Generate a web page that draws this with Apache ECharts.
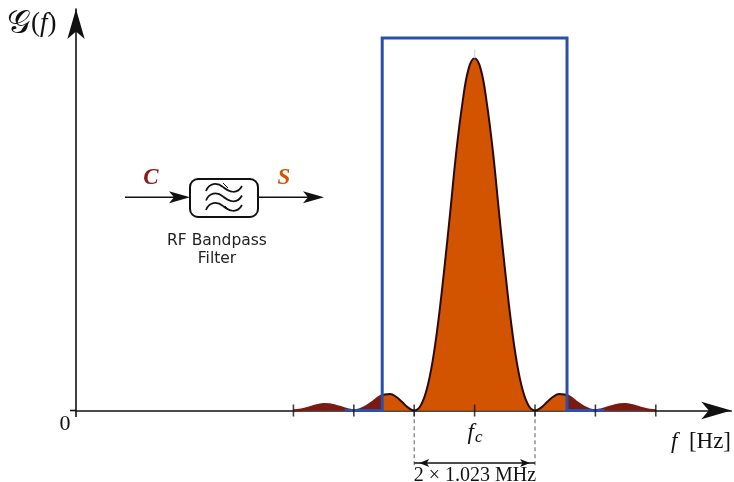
<!DOCTYPE html>
<html>
<head>
<meta charset="utf-8">
<script src="https://cdn.jsdelivr.net/npm/echarts@6/dist/echarts.min.js"></script>
<style>html,body{margin:0;padding:0;background:#fff}#c{width:734px;height:482px}</style>
</head>
<body>
<div id="c"></div>
<script>
// frequency offset from fc, in units of the chip rate (1.023 MHz)
const freqOffset = [-3.0,-2.9,-2.8,-2.7,-2.6,-2.5,-2.4,-2.3,-2.2,-2.1,-2.0,-1.9,-1.8,-1.7,-1.6,-1.5,-1.4,-1.3,-1.2,-1.1,-1.0,-0.9,-0.8,-0.7,-0.6,-0.5,-0.4,-0.3,-0.2,-0.1,0.0,0.1,0.2,0.3,0.4,0.5,0.6,0.7,0.8,0.9,1.0,1.1,1.2,1.3,1.4,1.5,1.6,1.7,1.8,1.9,2.0,2.1,2.2,2.3,2.4,2.5,2.6,2.7,2.8,2.9,3.0];
// normalised power spectral density
const psd = [0,0.0015,0.005,0.01,0.015,0.018,0.017,0.013,0.008,0.003,0,0.003,0.011,0.023,0.036,0.045,0.047,0.039,0.024,0.008,0,0.012,0.055,0.135,0.255,0.405,0.57,0.74,0.875,0.97,1,0.97,0.875,0.74,0.57,0.405,0.255,0.135,0.055,0.012,0,0.008,0.024,0.039,0.047,0.045,0.036,0.023,0.011,0.003,0,0.003,0.008,0.013,0.017,0.018,0.015,0.01,0.005,0.0015,0];
// RF bandpass filter (ideal) edges and gain
const filterEdge = 1.53;
const edgeLevel = 0.043;
const filterGain = 1.058;
const filterStop = 2.15;
// tick positions on the frequency axis
const tickPositions = [-3,-2,-1,0,1,2,3];
const bandHalf = 1; // main-lobe half width (1.023 MHz)
const dimLevel = -0.149; // level of the bandwidth dimension arrow
const guideLevel = -0.157;

const pairs = freqOffset.map((x,i)=>[x, psd[i]]);
const passband = [[-filterEdge, edgeLevel]].concat(pairs.filter(p=>Math.abs(p[0])<filterEdge), [[filterEdge, edgeLevel]]);
const lowerSide = pairs.filter(p=>p[0] < -filterEdge).concat([[-filterEdge, edgeLevel]]);
const upperSide = [[filterEdge, edgeLevel]].concat(pairs.filter(p=>p[0] > filterEdge));
const filterShape = [[-filterStop,0],[-filterEdge,0],[-filterEdge,filterGain],[filterEdge,filterGain],[filterEdge,0],[filterStop,0]];

const ORANGE = '#d35400', DARKRED = '#7b1a12', BLUE = '#2b50a8';
const SERIF = 'Liberation Serif';
const SANS = 'DejaVu Sans';

function txt(x, y, text, size, opts) {
  return {type:'text', x:x, y:y, z:10, style:Object.assign({text:text, fontSize:size, fontFamily:SERIF, fill:'#111', align:'left', verticalAlign:'middle'}, opts||{})};
}
function wave(y) {
  return [
    {type:'bezierCurve', shape:{x1:206,y1:y+3,cpx1:209,cpy1:y-5,cpx2:217,cpy2:y-6,x2:223,y2:y-1}, style:{stroke:'#111', lineWidth:1.7, fill:null}, z:10},
    {type:'bezierCurve', shape:{x1:223,y1:y-1,cpx1:229,cpy1:y+4,cpx2:237,cpy2:y+7,x2:242,y2:y-2}, style:{stroke:'#111', lineWidth:1.7, fill:null}, z:10}
  ];
}

const chart = echarts.init(document.getElementById('c'), null, {renderer:'canvas'});
chart.setOption({
  animation:false,
  grid:{left:76, right:2.7, top:9, bottom:71.5, containLabel:false},
  xAxis:{type:'value', min:-6.6, max:4.25, axisLine:{show:true, onZero:true, symbol:['none','arrow'], symbolSize:[13,30], lineStyle:{color:'#111', width:1.6}}, axisTick:{show:false}, axisLabel:{show:false}, splitLine:{show:false}},
  yAxis:{type:'value', min:0, max:1.14, axisLine:{show:true, onZero:false, symbol:['none','arrow'], symbolSize:[13,30], lineStyle:{color:'#111', width:1.6}}, axisTick:{show:false}, axisLabel:{show:false}, splitLine:{show:false}},
  series:[
    {type:'line', data:lowerSide, smooth:0.4, symbol:'none', clip:false, z:2,
     lineStyle:{color:DARKRED, width:2.5}, areaStyle:{color:DARKRED, opacity:1}},
    {type:'line', data:upperSide, smooth:0.4, symbol:'none', clip:false, z:2,
     lineStyle:{color:DARKRED, width:2.5}, areaStyle:{color:DARKRED, opacity:1}},
    {type:'line', data:passband, smooth:0.4, symbol:'none', clip:false, z:3,
     lineStyle:{color:'#2a0a02', width:2}, areaStyle:{color:ORANGE, opacity:1}},
    {type:'line', data:[[0,1.0],[0,1.024]], symbol:'none', z:3, lineStyle:{color:'#d8d8d8', width:1.5}},
    {type:'line', data:filterShape, symbol:'none', clip:false, z:4,
     lineStyle:{color:BLUE, width:3, join:'miter', cap:'butt'}},
    {type:'scatter', data:tickPositions.map(t=>[t,0]), symbol:'rect', symbolSize:[1.6,12], clip:false, z:6,
     itemStyle:{color:'#111'}},
    {type:'line', data:[[-bandHalf,-0.005],[-bandHalf,guideLevel]], symbol:'none', clip:false, z:5,
     lineStyle:{color:'#777', width:1.2, type:[4,3]}},
    {type:'line', data:[[bandHalf,-0.005],[bandHalf,guideLevel]], symbol:'none', clip:false, z:5,
     lineStyle:{color:'#777', width:1.2, type:[4,3]}},
    {type:'line', clip:false, z:6, symbol:'arrow', symbolSize:[6,10], showSymbol:true,
     itemStyle:{color:'#111'}, lineStyle:{color:'#111', width:1.3},
     data:[{value:[-bandHalf,dimLevel], symbolRotate:90, symbolOffset:[5,0]},
           {value:[bandHalf,dimLevel], symbolRotate:-90, symbolOffset:[-5,0]}]}
  ],
  graphic:[
    {type:'line', shape:{x1:70,y1:410.5,x2:76,y2:410.5}, style:{stroke:'#111', lineWidth:1.6}},
    {type:'line', shape:{x1:76,y1:410.5,x2:76,y2:417}, style:{stroke:'#111', lineWidth:1.6}},
    txt(7, 24, '{g|𝒢}({i|f})', 27, {rich:{g:{fontSize:33, fontFamily:SERIF}, i:{fontStyle:'italic', fontSize:27, fontFamily:SERIF}}}),
    txt(65, 424, '0', 22, {align:'center'}),
    txt(475, 433, '{f|f}{c|c}', 22, {align:'center', rich:{f:{fontStyle:'italic', fontSize:23, fontFamily:SERIF}, c:{fontStyle:'italic', fontSize:17, fontFamily:SERIF, padding:[9,0,0,1]}}}),
    txt(671, 442, '{f|f}  [Hz]', 23, {rich:{f:{fontStyle:'italic', fontSize:23, fontFamily:SERIF}}}),
    txt(475, 475.5, '2 × 1.023 MHz', 20, {align:'center'}),
    // block diagram
    {type:'line', shape:{x1:125,y1:197.3,x2:176,y2:197.3}, style:{stroke:'#111', lineWidth:1.5}},
    {type:'polygon', shape:{points:[[190,197.3],[169,191.3],[174,197.3],[169,203.3]]}, style:{fill:'#111'}},
    {type:'line', shape:{x1:258,y1:197.3,x2:309,y2:197.3}, style:{stroke:'#111', lineWidth:1.5}},
    {type:'polygon', shape:{points:[[324,197.3],[303,191.3],[308,197.3],[303,203.3]]}, style:{fill:'#111'}},
    {type:'rect', shape:{x:190,y:179,width:68,height:38,r:8}, style:{stroke:'#111', lineWidth:2, fill:'#fff'}},
    ...wave(188), ...wave(197.5), ...wave(207),
    {type:'line', shape:{x1:223,y1:183,x2:228,y2:188}, style:{stroke:'#111', lineWidth:1}, z:10},
    {type:'line', shape:{x1:225,y1:206,x2:230,y2:211}, style:{stroke:'#111', lineWidth:1}, z:10},
    txt(151, 178.5, 'C', 23, {align:'center', fontStyle:'italic', fontWeight:'bold', fill:'#8b1a1a'}),
    txt(284, 178.5, 'S', 23, {align:'center', fontStyle:'italic', fontWeight:'bold', fill:ORANGE}),
    txt(217, 241, 'RF Bandpass', 15.5, {align:'center', fontFamily:SANS, fill:'#222'}),
    txt(217, 258.5, 'Filter', 15.5, {align:'center', fontFamily:SANS, fill:'#222'})
  ]
});
</script>
</body>
</html>
